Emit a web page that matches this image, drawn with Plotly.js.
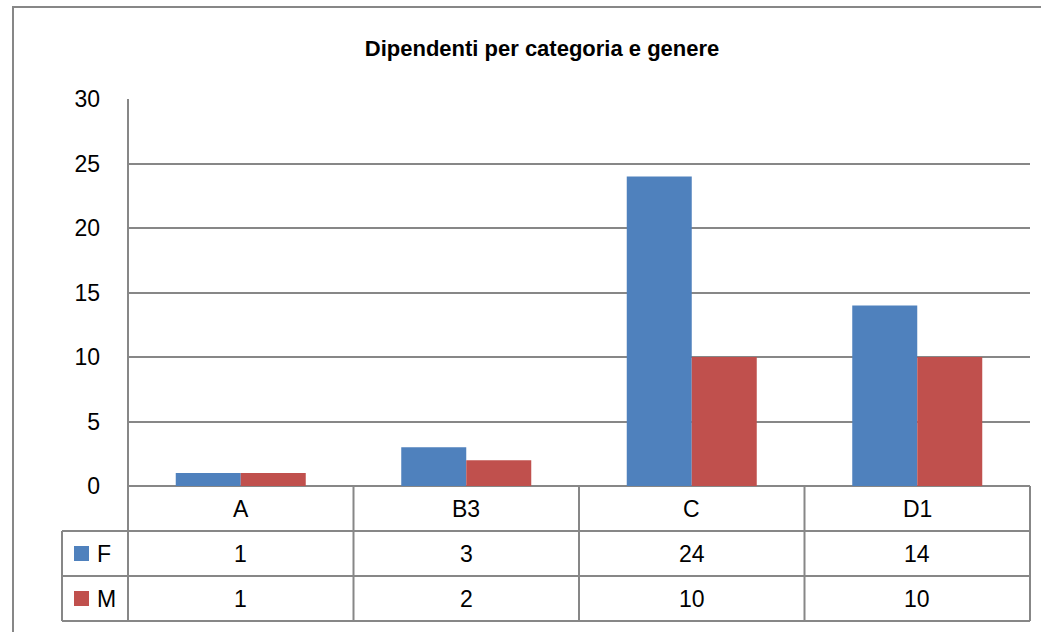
<!DOCTYPE html>
<html>
<head>
<meta charset="utf-8">
<script src="https://cdn.plot.ly/plotly-3.0.1.min.js"></script>
<style>html,body{margin:0;padding:0;background:#fff;}#chart{width:1041px;height:632px;}</style>
</head>
<body>
<div id="chart"></div>
<script>
const categories = ['A', 'B3', 'C', 'D1'];
const seriesNames = ['F', 'M'];
const valuesF = [1, 3, 24, 14];
const valuesM = [1, 2, 10, 10];
const seriesColors = ['#4F81BD', '#C0504D'];
const yTicks = [0, 5, 10, 15, 20, 25, 30];

const FONT = 'Liberation Sans, Arial, sans-serif';
const GRID = '#878787';
const seriesValues = [valuesF, valuesM];

const traces = seriesNames.map((name, i) => ({
  type: 'bar',
  name: name,
  x: categories,
  y: seriesValues[i],
  marker: {color: seriesColors[i], line: {width: 0}},
  hoverinfo: 'skip'
}));

// geometry of the plot area in pixels (for the table below the axis)
const L = 128, T = 99, W = 902, H = 387;
const px = x => (x - L) / W;
const py = y => (T + H - y) / H;

const rowTop = [486, 531, 576, 621];
const shapes = [];
const line = {color: GRID, width: 2};
// outer chart frame (left + top)
shapes.push({type: 'path', xref: 'paper', yref: 'paper',
  path: `M ${px(13)} ${py(640)} L ${px(13)} ${py(7)} L ${px(1050)} ${py(7)}`,
  line: line});
// horizontal table lines
[531, 576, 621].forEach(y => shapes.push({type: 'line', xref: 'paper', yref: 'paper',
  x0: px(62), x1: 1, y0: py(y), y1: py(y), line: line}));
// left axis line extended through table
shapes.push({type: 'line', xref: 'paper', yref: 'paper', x0: 0, x1: 0, y0: py(621), y1: 1, line: line});
// legend column left line
shapes.push({type: 'line', xref: 'paper', yref: 'paper', x0: px(62), x1: px(62), y0: py(621), y1: py(531), line: line});
// right table border
shapes.push({type: 'line', xref: 'paper', yref: 'paper', x0: 1, x1: 1, y0: py(621), y1: py(486), line: line});
// category separators
for (let i = 0; i < categories.length - 1; i++) {
  shapes.push({type: 'line', xref: 'x', yref: 'paper', x0: i + 0.5, x1: i + 0.5, y0: py(621), y1: 0, line: line});
}
// legend keys
seriesNames.forEach((n, i) => {
  const yc = (rowTop[i + 1] + rowTop[i + 2]) / 2;
  shapes.push({type: 'rect', xref: 'paper', yref: 'paper',
    x0: px(74), x1: px(89), y0: py(yc - 7.5), y1: py(yc + 7.5),
    fillcolor: seriesColors[i], line: {width: 0}});
});

const annotations = [];
const cellFont = {family: FONT, size: 23, color: '#000'};
categories.forEach((c, j) => {
  annotations.push({xref: 'x', yref: 'paper', x: j, y: py((rowTop[0] + rowTop[1]) / 2),
    text: c, showarrow: false, font: cellFont, xanchor: 'center', yanchor: 'middle'});
  seriesValues.forEach((vals, i) => {
    annotations.push({xref: 'x', yref: 'paper', x: j, y: py((rowTop[i + 1] + rowTop[i + 2]) / 2),
      text: String(vals[j]), showarrow: false, font: cellFont, xanchor: 'center', yanchor: 'middle'});
  });
});
seriesNames.forEach((n, i) => {
  annotations.push({xref: 'paper', yref: 'paper', x: px(95), y: py((rowTop[i + 1] + rowTop[i + 2]) / 2),
    text: n, showarrow: false, font: cellFont, xanchor: 'left', yanchor: 'middle'});
});

const layout = {
  width: 1041, height: 632,
  margin: {l: L, r: 1041 - L - W, t: T, b: 632 - T - H, pad: 0},
  paper_bgcolor: '#fff', plot_bgcolor: '#fff',
  showlegend: false,
  barmode: 'group', bargap: 0.4235, bargroupgap: 0,
  title: {text: '<b>Dipendenti per categoria e genere</b>', x: 0.5207, xref: 'container', xanchor: 'center',
    y: 0.923, yref: 'container', yanchor: 'middle', font: {family: FONT, size: 22, color: '#000'}},
  xaxis: {type: 'category', showticklabels: false, ticks: '', showgrid: false, zeroline: false, showline: false,
    range: [-0.5, categories.length - 0.5], fixedrange: true},
  yaxis: {range: [0, 30], tickvals: yTicks, ticktext: yTicks.map(String), showgrid: true, gridcolor: GRID, gridwidth: 2,
    zeroline: true, zerolinecolor: GRID, zerolinewidth: 2, showline: false, ticks: '', ticklabelstandoff: 27,
    tickfont: {family: FONT, size: 23, color: '#000'}, fixedrange: true},
  shapes: shapes,
  annotations: annotations
};

Plotly.newPlot('chart', traces, layout, {displayModeBar: false, staticPlot: true});
</script>
</body>
</html>
